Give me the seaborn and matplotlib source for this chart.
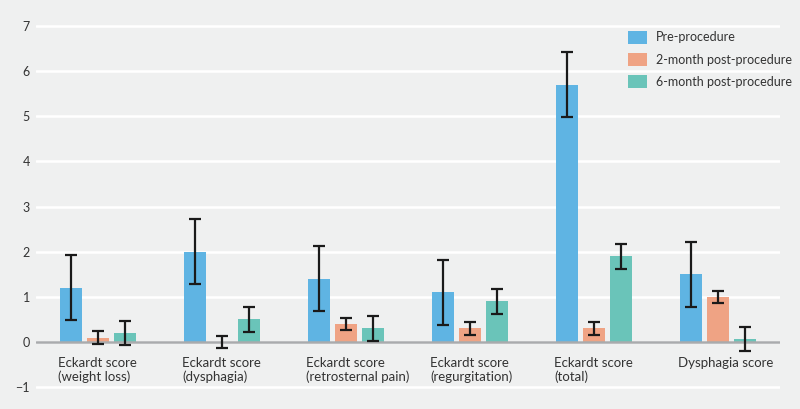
import pandas as pd
import numpy as np
import seaborn as sns
import matplotlib.pyplot as plt
from matplotlib import font_manager

categories = ['Eckardt score\n(weight loss)', 'Eckardt score\n(dysphagia)',
              'Eckardt score\n(retrosternal pain)', 'Eckardt score\n(regurgitation)',
              'Eckardt score\n(total)', 'Dysphagia score']
groups = ['Pre-procedure', '2-month post-procedure', '6-month post-procedure']

pre = [1.2, 2.0, 1.4, 1.1, 5.7, 1.5]
pre_err = [0.72, 0.72, 0.72, 0.72, 0.72, 0.72]
m2 = [0.1, 0.0, 0.4, 0.3, 0.3, 1.0]
m2_err = [0.15, 0.14, 0.13, 0.15, 0.15, 0.14]
m6 = [0.2, 0.5, 0.3, 0.9, 1.9, 0.07]
m6_err = [0.27, 0.27, 0.27, 0.28, 0.28, 0.27]

colors = ['#5fb4e3', '#efa384', '#6ac4b9']
bg = '#eff0f0'

rows = []
for vals, errs, g in [(pre, pre_err, groups[0]), (m2, m2_err, groups[1]), (m6, m6_err, groups[2])]:
    for c, v, e in zip(categories, vals, errs):
        rows.append({'Category': c, 'Group': g, 'Score': v, 'Err': e})
df = pd.DataFrame(rows)

sns.set_style('white')
names = {f.name for f in font_manager.fontManager.ttflist}
fam = 'Liberation Sans Narrow' if 'Liberation Sans Narrow' in names else 'Lato'
plt.rcParams['font.family'] = [fam, 'DejaVu Sans']

fig = plt.figure(figsize=(8, 4.09), dpi=100, facecolor=bg)
ax = fig.add_axes([0.045, 0.0203, 0.93, 0.9491])
ax.set_facecolor(bg)

width = 0.665
sns.barplot(data=df, x='Category', y='Score', hue='Group', order=categories,
            hue_order=groups, palette=colors, width=width, gap=0.2,
            errorbar=None, saturation=1, linewidth=0, ax=ax)

for cont, g in zip(ax.containers, groups):
    errs = df[df['Group'] == g].set_index('Category').loc[categories, 'Err'].values
    xs = [b.get_x() + b.get_width() / 2 for b in cont]
    hs = [b.get_height() for b in cont]
    ax.errorbar(xs, hs, yerr=errs, fmt='none', ecolor='#1a1a1a',
                elinewidth=1.6, capsize=4, capthick=1.6, zorder=4)

ax.set_ylim(-1.3, 7.3)
ax.set_xlim(-0.5, 5.5)
ax.set_yticks(range(-1, 8))
ax.set_yticklabels(['\u22121'] + [str(i) for i in range(0, 8)])
ax.yaxis.grid(True, color='white', linewidth=1.8)
ax.set_axisbelow(True)
ax.axhline(0, color='#a9abad', linewidth=1.8, zorder=3)
ax.tick_params(axis='y', length=0, pad=4.5, labelsize=9, labelcolor='#333333')
ax.set_xticks([])
ax.set_xlabel('')
ax.set_ylabel('')
for s in ax.spines.values():
    s.set_visible(False)

for i, c in enumerate(categories):
    ax.text(i - width / 2 + 0.01, -0.33, c, ha='left', va='top', fontsize=9.5,
            color='#333333', linespacing=1.15)

ax.legend(loc='upper left', frameon=False, fontsize=9, handlelength=1.55,
          handleheight=1.2, labelspacing=0.75, handletextpad=0.7,
          borderpad=0, borderaxespad=0,
          bbox_to_anchor=(0.7957, 0.953), labelcolor='#333333')

fig.savefig('out.png', dpi=100, facecolor=bg)
